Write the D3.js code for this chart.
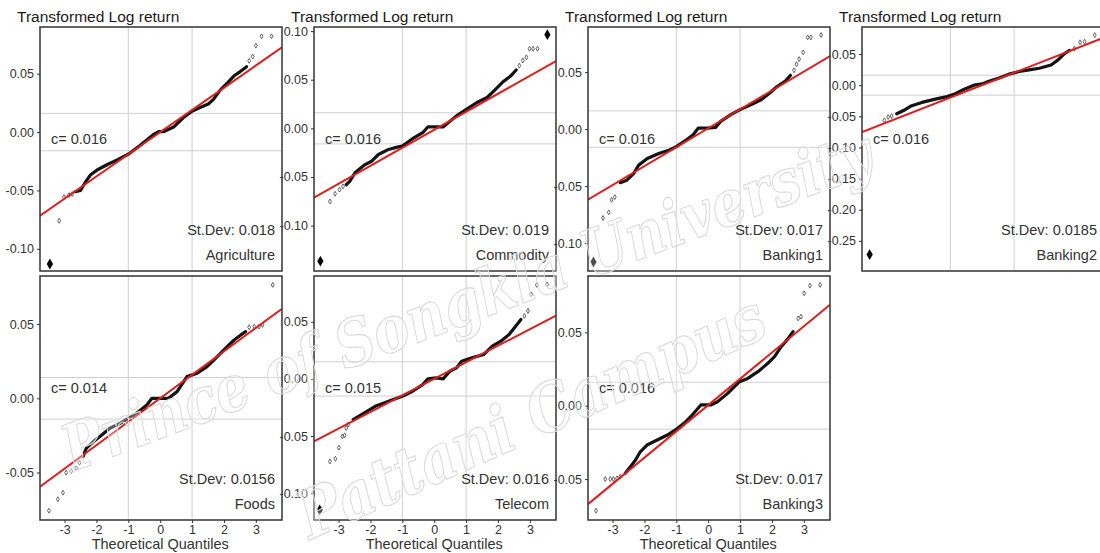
<!DOCTYPE html>
<html>
<head>
<meta charset="utf-8">
<script src="https://cdn.jsdelivr.net/npm/d3@7"></script>
<style>
  body { margin: 0; background: #fff; }
  svg { display: block; font-family: "Liberation Sans", Arial, sans-serif; }
</style>
</head>
<body>
<div id="qq-chart"></div>
<script>
// Panel labels
const panelNames = ["Agriculture", "Commodity", "Banking1", "Banking2", "Foods", "Telecom", "Banking3"];
const stDevs = ["0.018", "0.019", "0.017", "0.0185", "0.0156", "0.016", "0.017"];
const cValues = [0.016, 0.016, 0.016, 0.016, 0.014, 0.015, 0.016];

// Axis ranges and ticks
const xRange = [-3.77, 3.82];
const xTicks = [-3, -2, -1, 0, 1, 2, 3];
const xGuides = [-1, 1];
const yRanges = [
  [-0.119, 0.090], [-0.1467, 0.1042], [-0.1245, 0.0896], [-0.2984, 0.0934],
  [-0.082, 0.0824], [-0.1234, 0.090], [-0.0779, 0.0884]
];
const yTicks = [
  [-0.10, -0.05, 0, 0.05],
  [-0.10, -0.05, 0, 0.05, 0.10],
  [-0.10, -0.05, 0, 0.05],
  [-0.25, -0.20, -0.15, -0.10, -0.05, 0, 0.05],
  [-0.05, 0, 0.05],
  [-0.10, -0.05, 0, 0.05],
  [-0.05, 0, 0.05]
];

// Reference line (intercept + slope * quantile)
const lineIntercepts = [0, -0.0015, 0.0007, 0, 0, 0, 0.0004];
const lineSlopes = [0.019, 0.0185, 0.0166, 0.020, 0.0158, 0.0145, 0.0179];

// Sample quantiles: dense body, sparse tails, big outliers  [theoretical, sample]
const agriBody = [[-2.66,-0.051],[-2.5,-0.05],[-2.34,-0.0426],[-2.19,-0.0368],[-1.98,-0.0325],[-1.67,-0.028],[-1.35,-0.0238],[-0.99,-0.0188],[-0.625,-0.0113],[-0.21,-0.002],[-0.05,0.0003],[0.1,0.0003],[0.42,0.0043],[0.73,0.0125],[0.99,0.0177],[1.25,0.021],[1.51,0.024],[1.67,0.028],[1.875,0.0357],[2.14,0.043],[2.34,0.0487],[2.5,0.0516],[2.71,0.056]];
const agriTail = [[-3.17,-0.076],[-3.02,-0.0557],[-2.86,-0.054],[-2.76,-0.053],[2.79,0.061],[2.9,0.0646],[3.0,0.074],[3.18,0.082],[3.49,0.082]];
const agriBig = [[-3.46,-0.113]];

const commBody = [[-2.76,-0.058],[-2.65,-0.0545],[-2.49,-0.0459],[-2.39,-0.0431],[-2.17,-0.0373],[-1.96,-0.0338],[-1.75,-0.0269],[-1.43,-0.0217],[-1.16,-0.0193],[-1.0,-0.0183],[-0.68,-0.0107],[-0.36,-0.0045],[-0.2,0.0014],[0.06,0.0014],[0.28,0.0014],[0.38,0.0041],[0.70,0.0128],[1.02,0.0197],[1.34,0.0266],[1.66,0.0317],[1.93,0.0404],[2.14,0.0473],[2.41,0.0542],[2.57,0.060]];
const commTail = [[-3.27,-0.0752],[-3.11,-0.0673],[-2.97,-0.063],[-2.86,-0.0597],[2.67,0.0645],[2.78,0.0697],[2.89,0.0731],[2.99,0.0818],[3.1,0.0818],[3.24,0.0818]];
const commBig = [[-3.57,-0.1366],[3.55,0.0963]];

const bank1Body = [[-2.76,-0.047],[-2.55,-0.0448],[-2.34,-0.039],[-2.18,-0.0316],[-1.91,-0.0257],[-1.53,-0.0212],[-1.21,-0.0183],[-1.0,-0.0153],[-0.68,-0.0094],[-0.47,-0.005],[-0.31,0.0009],[-0.04,0.0009],[0.23,0.0015],[0.39,0.0068],[0.71,0.0127],[1.0,0.0171],[1.35,0.0215],[1.67,0.026],[1.94,0.0319],[2.15,0.0372],[2.42,0.0422],[2.58,0.0472]];
const bank1Tail = [[-3.3,-0.078],[-3.12,-0.073],[-3.03,-0.062],[-2.93,-0.0596],[2.69,0.0516],[2.77,0.057],[2.85,0.0614],[2.98,0.0673],[3.12,0.0805],[3.22,0.0805],[3.54,0.0826]];
const bank1Big = [[-3.6,-0.1165]];

const bank2Body = [[-2.68,-0.0459],[-2.47,-0.0407],[-2.21,-0.0329],[-1.89,-0.0277],[-1.47,-0.0224],[-1.1,-0.0183],[-0.84,-0.0136],[-0.58,-0.0068],[-0.26,0.0],[0.0,0.002],[0.21,0.0063],[0.53,0.0115],[0.84,0.0177],[1.16,0.0219],[1.47,0.0245],[1.79,0.0271],[2.16,0.0324],[2.37,0.0402],[2.58,0.0506],[2.74,0.0558]];
const bank2Tail = [[-3.07,-0.0564],[-2.95,-0.0511],[-2.84,-0.0496],[2.89,0.0585],[3.07,0.0689],[3.21,0.0699],[3.53,0.0804]];
const bank2Big = [[-3.53,-0.272]];

const foodBody = [[-2.42,-0.0393],[-2.32,-0.0337],[-2.1,-0.0292],[-1.89,-0.0258],[-1.58,-0.0202],[-1.26,-0.0169],[-1.0,-0.0135],[-0.74,-0.0101],[-0.42,-0.0045],[-0.26,0.0],[0.26,0.0],[0.53,0.0045],[0.84,0.0146],[1.16,0.0169],[1.47,0.0213],[1.79,0.0281],[2.1,0.0348],[2.32,0.0393],[2.53,0.0427],[2.68,0.0449]];
const foodTail = [[-3.49,-0.0757],[-3.21,-0.068],[-3.05,-0.0636],[-2.95,-0.0501],[-2.79,-0.049],[-2.63,-0.0472],[-2.53,-0.0434],[2.79,0.0479],[2.95,0.0483],[3.1,0.0483],[3.21,0.0494],[3.53,0.0764]];
const foodBig = [];

const teleBody = [[-2.54,-0.0357],[-2.28,-0.0313],[-1.85,-0.024],[-1.43,-0.0196],[-1.0,-0.0152],[-0.68,-0.0108],[-0.36,-0.005],[-0.2,0.0],[0.06,0.0009],[0.28,0.0],[0.49,0.0067],[0.70,0.0096],[0.86,0.0155],[1.18,0.0184],[1.55,0.0213],[1.82,0.0287],[2.09,0.033],[2.35,0.0389],[2.56,0.0462],[2.72,0.052]];
const teleTail = [[-3.27,-0.0722],[-3.1,-0.0699],[-2.99,-0.06],[-2.88,-0.0503],[-2.81,-0.0494],[-2.76,-0.043],[-2.7,-0.04],[2.83,0.055],[2.94,0.0594],[3.04,0.074],[3.22,0.0822],[3.54,0.0827]];
const teleBig = [[-3.59,-0.1146]];

const bank3Body = [[-2.6,-0.0461],[-2.44,-0.0416],[-2.28,-0.037],[-2.13,-0.0314],[-1.92,-0.0268],[-1.6,-0.0234],[-1.28,-0.02],[-1.0,-0.0161],[-0.76,-0.012],[-0.55,-0.0075],[-0.23,0.0005],[0.08,0.0005],[0.29,0.0027],[0.61,0.0084],[0.98,0.0164],[1.24,0.0186],[1.56,0.0232],[1.87,0.0289],[2.08,0.0334],[2.29,0.0402],[2.51,0.0459],[2.66,0.0505]];
const bank3Tail = [[-3.52,-0.0716],[-3.23,-0.05],[-3.07,-0.05],[-2.97,-0.05],[-2.86,-0.0495],[-2.76,-0.0484],[2.82,0.0595],[2.91,0.0607],[3.01,0.0766],[3.19,0.0818],[3.51,0.0823]];
const bank3Big = [];

const bodies = [agriBody, commBody, bank1Body, bank2Body, foodBody, teleBody, bank3Body];
const tails = [agriTail, commTail, bank1Tail, bank2Tail, foodTail, teleTail, bank3Tail];
const bigs = [agriBig, commBig, bank1Big, bank2Big, foodBig, teleBig, bank3Big];

// Layout
const width = 1100, height = 553;
const colLefts = [40, 314, 588, 862];
const rowTops = [27, 276];
const panelW = 242, panelH = 244;

// SVG
const svg = d3.select('#qq-chart')
  .append('svg')
  .attr('width', width)
  .attr('height', height);

const defs = svg.append('defs');

panelNames.forEach(function (name, i) {
  const row = i < 4 ? 0 : 1;
  const col = i < 4 ? i : i - 4;
  const left = colLefts[col];
  const top = rowTops[row];

  const x = d3.scaleLinear().domain(xRange).range([left, left + panelW]);
  const y = d3.scaleLinear().domain(yRanges[i]).range([top + panelH, top]);

  defs.append('clipPath')
    .attr('id', 'clip' + i)
    .append('rect')
    .attr('x', left).attr('y', top)
    .attr('width', panelW).attr('height', panelH);

  const panel = svg.append('g').attr('class', 'panel');

  // Grid lines at +-1 quantile and +-c
  panel.append('g')
    .selectAll('line')
    .data(xGuides)
    .join('line')
    .attr('x1', d => x(d)).attr('x2', d => x(d))
    .attr('y1', top).attr('y2', top + panelH)
    .attr('stroke', '#cfcfcf').attr('stroke-width', 1);

  panel.append('g')
    .selectAll('line')
    .data([-cValues[i], cValues[i]])
    .join('line')
    .attr('x1', left).attr('x2', left + panelW)
    .attr('y1', d => y(d)).attr('y2', d => y(d))
    .attr('stroke', '#cfcfcf').attr('stroke-width', 1);

  const plot = panel.append('g').attr('clip-path', 'url(#clip' + i + ')');

  // Dense body of the sample quantiles
  plot.append('path')
    .datum(bodies[i])
    .attr('fill', 'none')
    .attr('stroke', '#141414')
    .attr('stroke-width', 3.2)
    .attr('stroke-linejoin', 'round')
    .attr('stroke-linecap', 'round')
    .attr('d', d3.line().x(d => x(d[0])).y(d => y(d[1])));

  // Sparse tail points
  plot.append('g')
    .selectAll('path')
    .data(tails[i])
    .join('path')
    .attr('transform', d => `translate(${x(d[0])},${y(d[1])})`)
    .attr('d', d3.symbol(d3.symbolDiamond, 7))
    .attr('fill', 'none')
    .attr('stroke', '#555')
    .attr('stroke-width', 0.9);

  // Reference line
  plot.append('line')
    .attr('x1', x(xRange[0])).attr('x2', x(xRange[1]))
    .attr('y1', y(lineIntercepts[i] + lineSlopes[i] * xRange[0]))
    .attr('y2', y(lineIntercepts[i] + lineSlopes[i] * xRange[1]))
    .attr('stroke', '#dd1f1f')
    .attr('stroke-width', 2);

  // Big outliers
  plot.append('g')
    .selectAll('path')
    .data(bigs[i])
    .join('path')
    .attr('transform', d => `translate(${x(d[0])},${y(d[1])})`)
    .attr('d', d3.symbol(d3.symbolDiamond, 34))
    .attr('fill', '#000');

  // Frame
  panel.append('rect')
    .attr('x', left).attr('y', top)
    .attr('width', panelW).attr('height', panelH)
    .attr('fill', 'none')
    .attr('stroke', '#333')
    .attr('stroke-width', 1.5);

  // Y axis
  const yAxis = panel.append('g')
    .attr('transform', `translate(${left},0)`)
    .call(d3.axisLeft(y)
      .tickValues(yTicks[i])
      .tickSize(3)
      .tickPadding(3)
      .tickFormat(d => d.toFixed(2)));
  yAxis.select('.domain').remove();
  yAxis.selectAll('line').attr('stroke', '#333');
  yAxis.selectAll('text')
    .attr('fill', '#333')
    .style('font-size', '12.5px')
    .style('font-family', '"Liberation Sans", Arial, sans-serif');

  // X axis on bottom row
  if (row === 1) {
    const xAxis = panel.append('g')
      .attr('transform', `translate(0,${top + panelH})`)
      .call(d3.axisBottom(x)
        .tickValues(xTicks)
        .tickSize(3)
        .tickPadding(2)
        .tickFormat(d => String(d)));
    xAxis.select('.domain').remove();
    xAxis.selectAll('line').attr('stroke', '#333');
    xAxis.selectAll('text')
      .attr('fill', '#333')
      .style('font-size', '12.5px')
      .style('font-family', '"Liberation Sans", Arial, sans-serif');

    panel.append('text')
      .attr('x', x(0)).attr('y', 549)
      .attr('text-anchor', 'middle')
      .attr('fill', '#333')
      .style('font-size', '14.5px')
      .text('Theoretical Quantiles');
  } else {
    panel.append('text')
      .attr('x', left - 23).attr('y', 22)
      .attr('fill', '#1a1a1a')
      .style('font-size', '15.5px')
      .text('Transformed Log return');
  }

  // Annotations
  panel.append('text')
    .attr('x', left + 11).attr('y', top + 117)
    .attr('fill', '#333')
    .style('font-size', '14.5px')
    .text('c= ' + cValues[i].toFixed(3));

  panel.append('text')
    .attr('x', left + panelW - 7).attr('y', top + panelH - 36)
    .attr('text-anchor', 'end')
    .attr('fill', '#333')
    .style('font-size', '14.5px')
    .text('St.Dev: ' + stDevs[i]);

  panel.append('text')
    .attr('x', left + panelW - 7).attr('y', top + panelH - 11)
    .attr('text-anchor', 'end')
    .attr('fill', '#333')
    .style('font-size', '14.5px')
    .text(name);
});

// Watermark
const mark = svg.append('g')
  .attr('fill', '#ffffff')
  .attr('fill-opacity', 0.3)
  .attr('stroke', '#dadada')
  .attr('stroke-width', 1.1)
  .style('font-family', '"DejaVu Serif", serif')
  .style('font-style', 'italic')
  .style('font-weight', 'bold');

mark.append('text')
  .attr('transform', 'translate(72,472) rotate(-20.5)')
  .attr('textLength', 860)
  .attr('lengthAdjust', 'spacingAndGlyphs')
  .style('font-size', '64px')
  .text('Prince of Songkla University');

mark.append('text')
  .attr('transform', 'translate(310,540) rotate(-24)')
  .attr('textLength', 505)
  .attr('lengthAdjust', 'spacingAndGlyphs')
  .style('font-size', '66px')
  .text('Pattani Campus');
</script>
</body>
</html>
